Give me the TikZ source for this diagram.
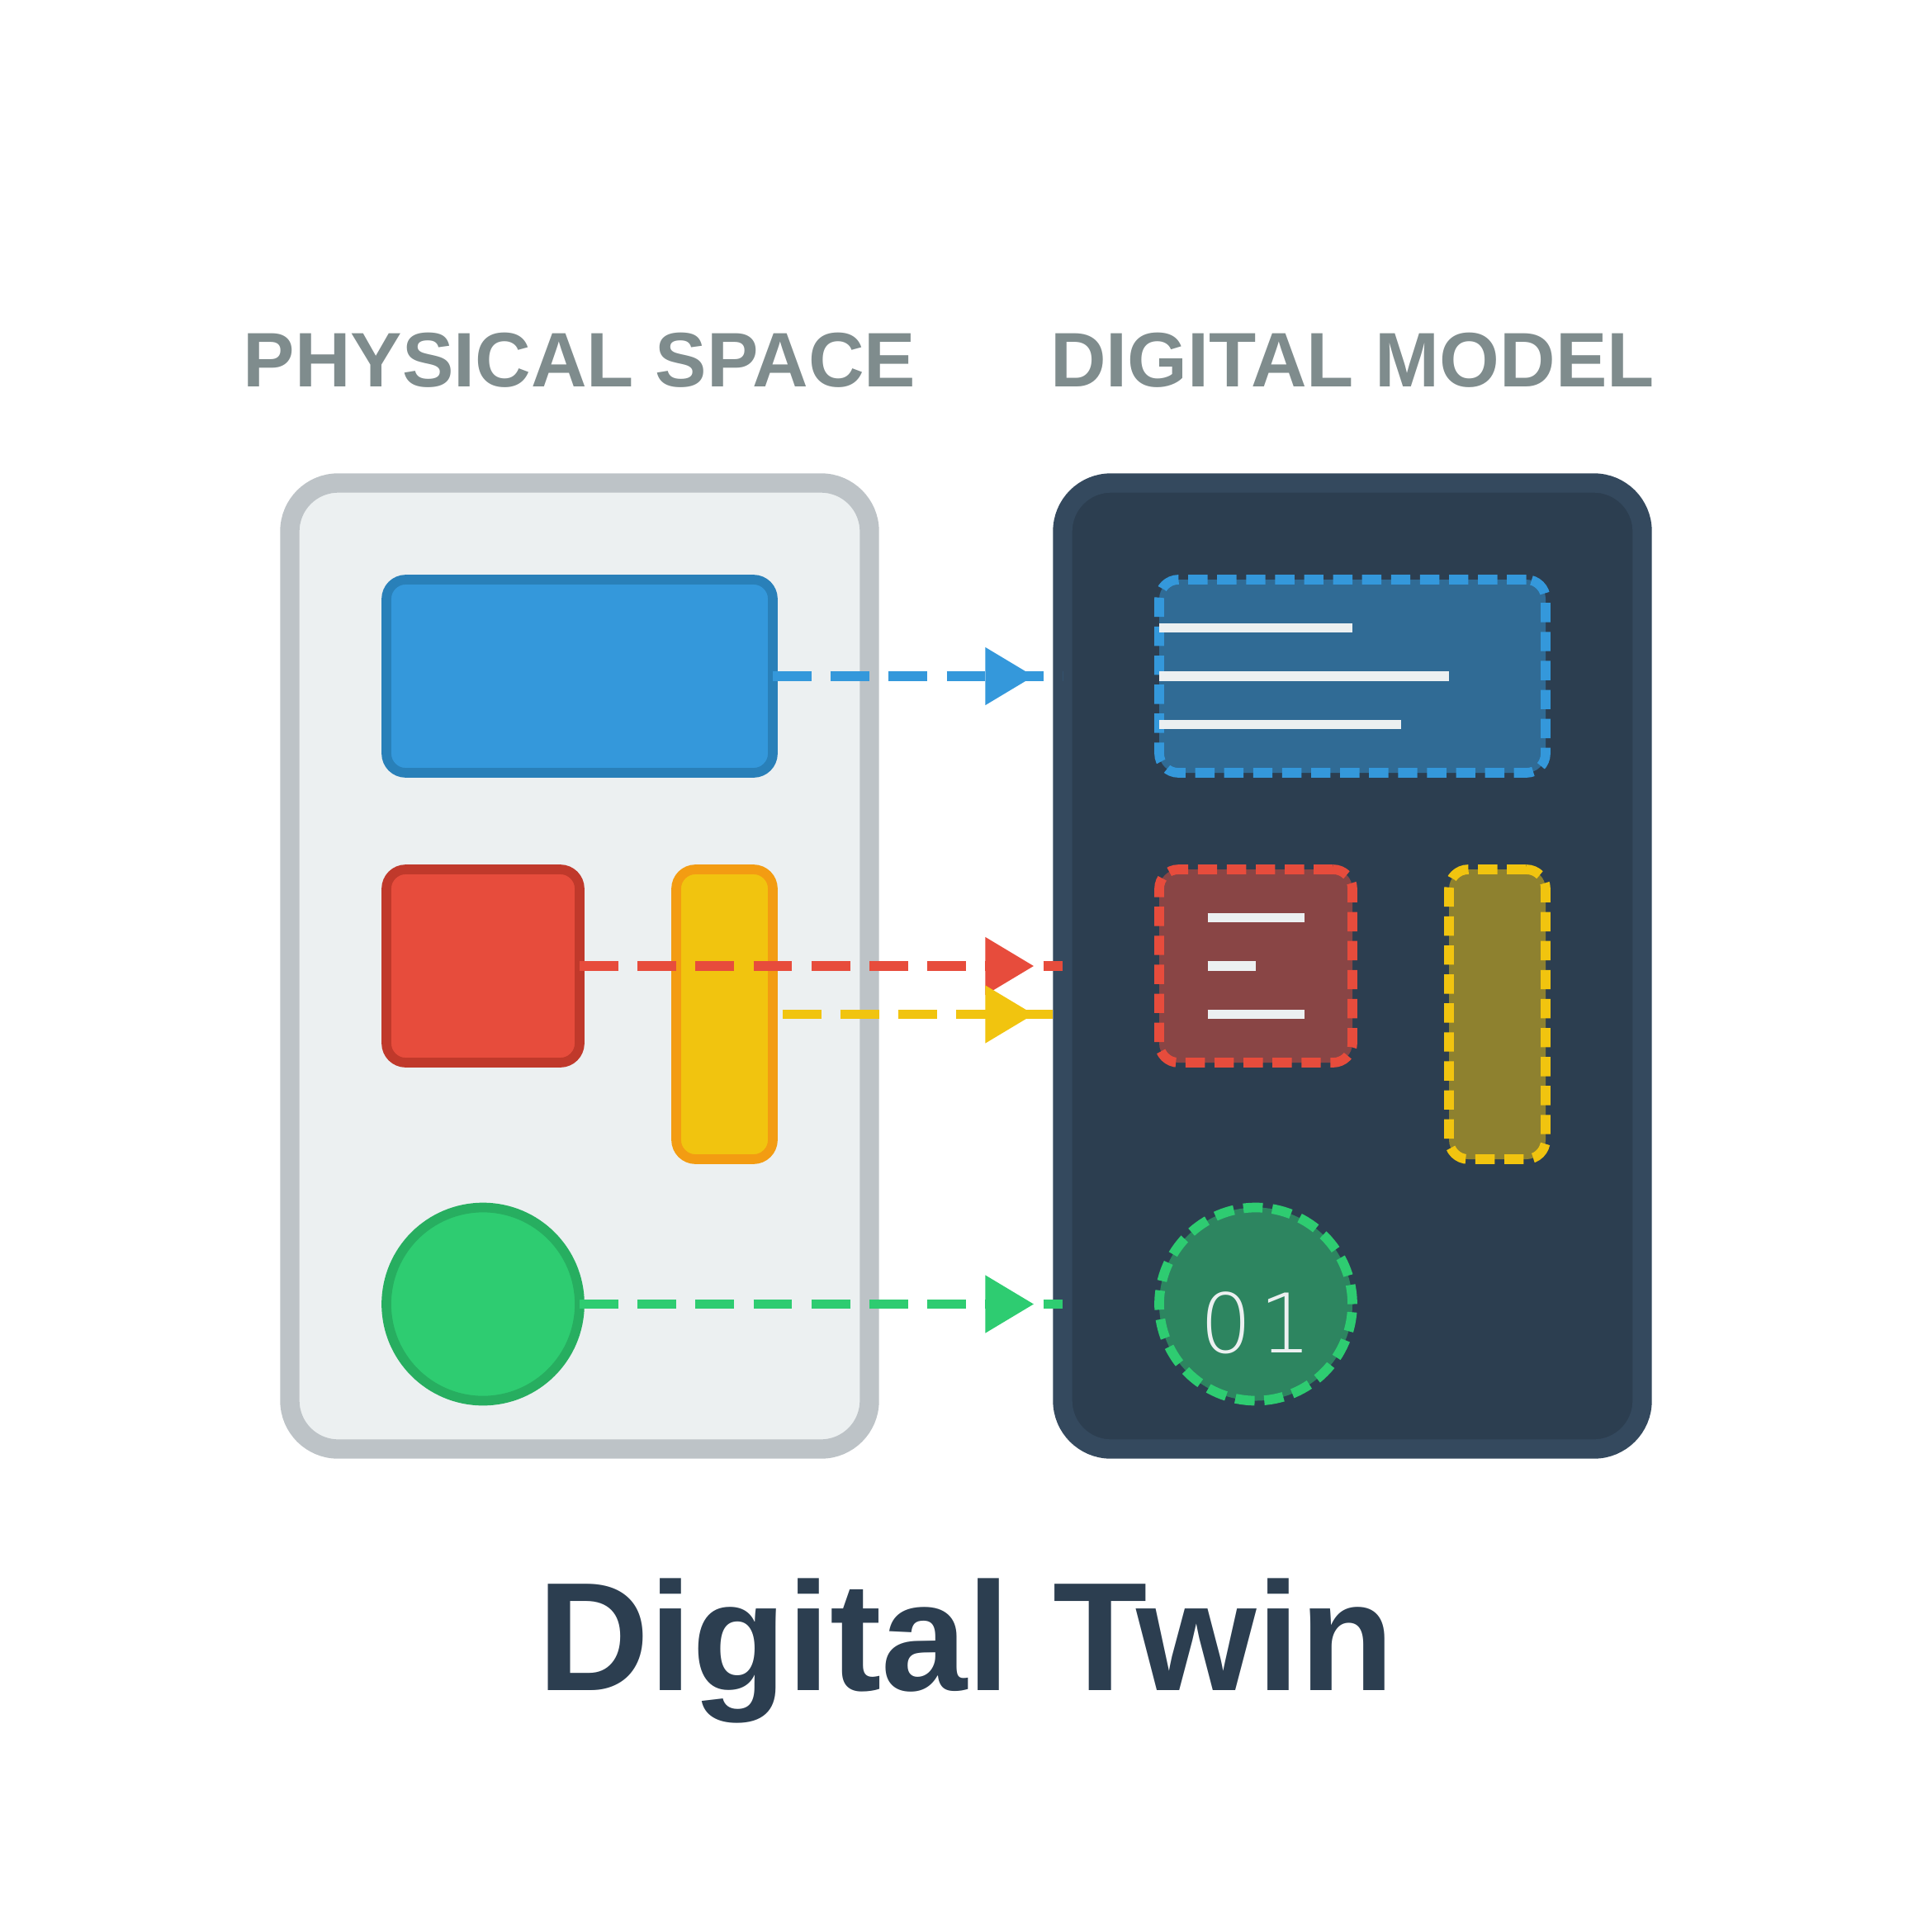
\documentclass[tikz,border=0pt]{standalone}
\usepackage{fontspec}
\setmainfont{Liberation Sans}
\IfFontExistsTF{DejaVu Sans ExtraLight}
  {\newfontfamily\codefont{DejaVu Sans ExtraLight}}
  {\newfontfamily\codefont{DejaVu Sans}}

\definecolor{ink}{HTML}{2C3E50}
\definecolor{slate}{HTML}{34495E}
\definecolor{cloud}{HTML}{ECF0F1}
\definecolor{silver}{HTML}{BDC3C7}
\definecolor{headgray}{HTML}{7F8C8D}
\definecolor{bluefill}{HTML}{3498DB}
\definecolor{blueedge}{HTML}{2980B9}
\definecolor{redfill}{HTML}{E74C3C}
\definecolor{rededge}{HTML}{C0392B}
\definecolor{yellowfill}{HTML}{F1C40F}
\definecolor{yellowedge}{HTML}{F39C12}
\definecolor{greenfill}{HTML}{2ECC71}
\definecolor{greenedge}{HTML}{27AE60}

\tikzset{
  panel/.style={draw, line width=8pt, rounded corners=20pt, minimum width=240pt,
    minimum height=400pt, inner sep=0pt, outer sep=0pt},
  part/.style={draw, line width=4pt, rounded corners=8pt, inner sep=0pt, outer sep=0pt},
  disc/.style={circle, draw, line width=4pt, minimum size=80pt, inner sep=0pt, outer sep=0pt},
  twin/.style={draw=#1, fill=#1, fill opacity=0.5, dash pattern=on 8pt off 4pt},
  link/.style={line width=4pt, dash pattern=on 16pt off 8pt},
  bar/.style={draw=cloud, line width=4pt},
  heading/.style={anchor=base, text=headgray, font=\bfseries\fontsize{32}{38}\selectfont},
}

\begin{document}
\begin{tikzpicture}[x=1pt,y=-1pt]
    \useasboundingbox (0,0) rectangle (800,800);
    % two spaces
    \node[panel, fill=cloud, draw=silver] (physical) at (240,400) {};
    \node[panel, fill=ink, draw=slate] (digital) at (560,400) {};
    \node[heading] (phyhead) at (240,160) {PHYSICAL SPACE};
    \node[heading] (dighead) at (560,160) {DIGITAL MODEL};
    % physical parts
    \node[part, fill=bluefill, draw=blueedge, minimum width=160pt, minimum height=80pt] (phyblue) at (240,280) {};
    \node[part, fill=redfill, draw=rededge, minimum width=80pt, minimum height=80pt] (phyred) at (200,400) {};
    \node[part, fill=yellowfill, draw=yellowedge, minimum width=40pt, minimum height=120pt] (phyyellow) at (300,420) {};
    \node[disc, fill=greenfill, draw=greenedge] (phygreen) at (200,540) {};
    % digital copies
    \node[part, twin=bluefill, minimum width=160pt, minimum height=80pt] (digblue) at (560,280) {};
    \node[part, twin=redfill, minimum width=80pt, minimum height=80pt] (digred) at (520,400) {};
    \node[part, twin=yellowfill, minimum width=40pt, minimum height=120pt] (digyellow) at (620,420) {};
    \node[disc, twin=greenfill] (diggreen) at (520,540) {};
    \foreach \y/\len in {-20/80,0/120,20/100} {
      \draw[bar] (digblue.west) ++(0,\y) -- ++(\len,0);
    }
    \foreach \y/\len in {-20/40,0/20,20/40} {
      \draw[bar] (digred.west) ++(20,\y) -- ++(\len,0);
    }
    \node[anchor=base, text=cloud, font=\codefont\fontsize{34}{40}\selectfont] (bits) at (520,560) {0\hspace{3pt}1};
    % mapping
    \foreach \src/\anc/\col in {phyblue/east/bluefill,phyred/east/redfill,phyyellow/center/yellowfill,phygreen/east/greenfill} {
      \draw[link, draw=\col] (\src.\anc) -- (\src.\anc -| digital.west) coordinate (tip);
      \fill[\col] (tip) ++(-32,-12) -- ++(20,12) -- ++(-20,12) -- cycle;
    }
    \node[anchor=base, text=ink, font=\bfseries\fontsize{64}{76}\selectfont] (title) at (400,700) {Digital Twin};
  \end{tikzpicture}
\end{document}
